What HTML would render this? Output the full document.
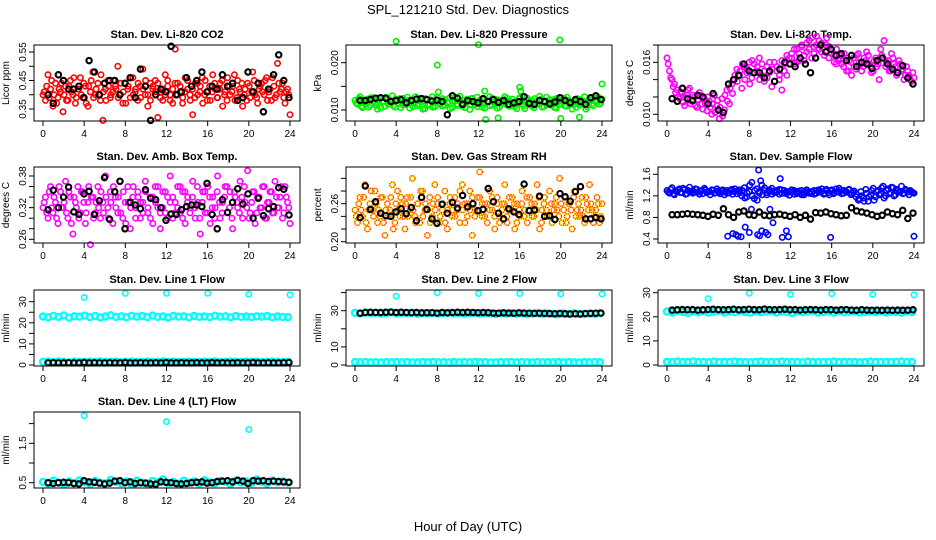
<!DOCTYPE html>
<html><head><meta charset="utf-8"><title>SPL_121210 Std. Dev. Diagnostics</title>
<style>
html,body{margin:0;padding:0;background:#fff;}
svg{display:block;font-family:"Liberation Sans",Arial,sans-serif;}
</style></head>
<body>
<svg id="chart" width="936" height="540" viewBox="0 0 936 540" xmlns="http://www.w3.org/2000/svg">
<text x="468" y="14" text-anchor="middle" font-size="13">SPL_121210  Std. Dev. Diagnostics</text>
<text x="468" y="531" text-anchor="middle" font-size="13">Hour of Day (UTC)</text>
</svg>
<script>
// ---- data ----
const xTicks = [0,4,8,12,16,20,24];

const co2Vals = [0.40,0.38,0.47,0.42,0.36,0.44,0.39,0.41,0.34,0.43,0.38,0.45,0.40,0.37,0.42,0.46,0.39,0.43,0.36,0.41,
0.48,0.40,0.44,0.38,0.31,0.42,0.45,0.39,0.41,0.43,0.50,0.40,0.37,0.44,0.42,0.39,0.46,0.41,0.38,0.43,
0.49,0.40,0.36,0.44,0.42,0.45,0.32,0.41,0.38,0.47,0.43,0.40,0.37,0.56,0.44,0.41,0.39,0.46,0.42,0.38,
0.33,0.44,0.40,0.43,0.37,0.45,0.41,0.38,0.47,0.42,0.39,0.44,0.36,0.41,0.46,0.40,0.43,0.38,0.45,0.41,
0.36,0.42,0.44,0.39,0.48,0.40,0.37,0.43,0.41,0.45,0.38,0.42,0.46,0.39,0.51,0.41,0.44,0.37,0.42,0.33];
const co2ValsB = [0.41,0.43,0.39,0.45,0.40,0.37,0.42,0.44,0.40,0.38,0.43,0.41,0.46,0.39,0.42,0.40,0.44,0.37,0.43,0.45,
0.39,0.42,0.40,0.47,0.41,0.38,0.43,0.40,0.45,0.42,0.39,0.44,0.41,0.37,0.43,0.46,0.40,0.42,0.44,0.39,
0.42,0.45,0.40,0.38,0.43,0.41,0.44,0.39,0.42,0.40,0.45,0.38,0.42,0.44,0.40,0.43,0.37,0.41,0.45,0.40,
0.42,0.39,0.44,0.41,0.46,0.40,0.38,0.43,0.41,0.44,0.39,0.42,0.45,0.40,0.38,0.43,0.41,0.47,0.39,0.42,
0.44,0.40,0.38,0.43,0.41,0.45,0.39,0.42,0.44,0.40,0.46,0.41,0.38,0.43,0.40,0.44,0.42,0.39,0.41,0.40];
const co2Black = [0.40,0.37,0.47,0.45,0.42,0.42,0.43,0.39,0.52,0.48,0.40,0.44,0.45,0.45,0.40,0.44,0.46,0.39,0.49,0.43,
0.31,0.40,0.42,0.41,0.57,0.40,0.41,0.46,0.43,0.45,0.48,0.41,0.43,0.42,0.47,0.43,0.44,0.38,0.39,0.48,
0.41,0.44,0.34,0.42,0.47,0.54,0.45,0.39];

const presVals = [0.0120,0.0112,0.0128,0.0105,0.0118,0.0123,0.0110,0.0126,0.0115,0.0102,0.0125,0.0117,0.0108,0.0122,0.0113,0.0130,0.0106,0.0119,0.0124,0.0111,
0.0116,0.0127,0.0104,0.0121,0.0114,0.0109,0.0125,0.0118,0.0103,0.0122,0.0112,0.0128,0.0107,0.0120,0.0115,0.0124,0.0110,0.0117,0.0126,0.0105,
0.0119,0.0113,0.0129,0.0108,0.0121,0.0116,0.0101,0.0123,0.0111,0.0127,0.0114,0.0106,0.0122,0.0118,0.0109,0.0125,0.0113,0.0104,0.0120,0.0116,
0.0128,0.0110,0.0119,0.0123,0.0107,0.0115,0.0126,0.0112,0.0103,0.0121,0.0117,0.0108,0.0124,0.0114,0.0129,0.0106,0.0119,0.0111,0.0122,0.0116,
0.0105,0.0125,0.0113,0.0118,0.0109,0.0127,0.0115,0.0102,0.0120,0.0124,0.0110,0.0117,0.0128,0.0107,0.0121,0.0113,0.0126,0.0118,0.0112,0.0123];
const presValsB = [0.0115,0.0124,0.0108,0.0121,0.0113,0.0106,0.0126,0.0118,0.0110,0.0122,0.0104,0.0119,0.0127,0.0112,0.0117,0.0109,0.0123,0.0114,0.0105,0.0125,
0.0111,0.0120,0.0116,0.0107,0.0128,0.0113,0.0119,0.0102,0.0124,0.0110,0.0121,0.0106,0.0117,0.0126,0.0112,0.0108,0.0122,0.0115,0.0103,0.0120,
0.0127,0.0109,0.0118,0.0114,0.0105,0.0123,0.0111,0.0125,0.0116,0.0107,0.0121,0.0113,0.0104,0.0119,0.0128,0.0110,0.0117,0.0122,0.0106,0.0114,
0.0120,0.0125,0.0108,0.0116,0.0112,0.0103,0.0124,0.0118,0.0109,0.0126,0.0111,0.0121,0.0105,0.0119,0.0113,0.0123,0.0107,0.0127,0.0115,0.0110,
0.0122,0.0104,0.0118,0.0112,0.0125,0.0108,0.0120,0.0116,0.0111,0.0106,0.0123,0.0114,0.0119,0.0102,0.0117,0.0124,0.0109,0.0121,0.0127,0.0115];
const presOutX = [4.0,8.0,8.1,12.0,12.7,13.9,16.0,16.1,19.9,20.0,21.8,24.0,12.6];
const presOutY = [0.0245,0.0195,0.0138,0.0238,0.0080,0.0083,0.0148,0.0140,0.0248,0.0082,0.0085,0.0155,0.0140];
const presBlack = [0.0120,0.0120,0.0122,0.0125,0.0126,0.0125,0.0118,0.0120,0.0122,0.0115,0.0120,0.0123,0.0124,0.0122,0.0119,0.0121,0.0118,0.0090,0.0130,0.0125,
0.0112,0.0120,0.0118,0.0115,0.0124,0.0118,0.0122,0.0116,0.0120,0.0112,0.0115,0.0118,0.0128,0.0114,0.0112,0.0120,0.0118,0.0113,0.0117,0.0126,
0.0120,0.0115,0.0122,0.0118,0.0112,0.0126,0.0130,0.0122];

const tempVals = [0.0165,0.0150,0.0140,0.0135,0.0128,0.0118,0.0125,0.0110,0.0122,0.0130,0.0115,0.0120,0.0108,0.0125,0.0112,0.0118,0.0104,0.0115,0.0100,0.0122,
0.0110,0.0095,0.0118,0.0105,0.0128,0.0112,0.0135,0.0140,0.0152,0.0145,0.0130,0.0155,0.0148,0.0160,0.0142,0.0158,0.0150,0.0165,0.0145,0.0138,
0.0155,0.0148,0.0132,0.0160,0.0150,0.0140,0.0128,0.0158,0.0145,0.0165,0.0170,0.0158,0.0175,0.0162,0.0180,0.0168,0.0172,0.0185,0.0165,0.0178,
0.0190,0.0175,0.0182,0.0168,0.0188,0.0178,0.0170,0.0160,0.0175,0.0165,0.0158,0.0170,0.0150,0.0162,0.0145,0.0155,0.0168,0.0160,0.0150,0.0165,
0.0172,0.0158,0.0148,0.0162,0.0155,0.0140,0.0168,0.0185,0.0160,0.0150,0.0170,0.0158,0.0145,0.0162,0.0150,0.0140,0.0155,0.0145,0.0138,0.0142];
const tempValsB = [0.0158,0.0142,0.0132,0.0125,0.0120,0.0126,0.0114,0.0119,0.0128,0.0112,0.0122,0.0110,0.0117,0.0121,0.0106,0.0113,0.0120,0.0108,0.0112,0.0102,
0.0116,0.0108,0.0098,0.0122,0.0115,0.0130,0.0124,0.0145,0.0138,0.0150,0.0158,0.0140,0.0152,0.0135,0.0162,0.0148,0.0155,0.0140,0.0158,0.0150,
0.0142,0.0160,0.0152,0.0138,0.0155,0.0145,0.0162,0.0150,0.0168,0.0158,0.0165,0.0175,0.0160,0.0170,0.0178,0.0162,0.0182,0.0175,0.0188,0.0170,
0.0180,0.0185,0.0172,0.0178,0.0180,0.0165,0.0175,0.0168,0.0158,0.0162,0.0168,0.0155,0.0165,0.0150,0.0160,0.0165,0.0152,0.0170,0.0158,0.0155,
0.0162,0.0168,0.0155,0.0150,0.0165,0.0158,0.0175,0.0165,0.0155,0.0162,0.0150,0.0165,0.0155,0.0148,0.0158,0.0152,0.0145,0.0150,0.0140,0.0148];
const tempBlack = [0.0118,0.0115,0.0130,0.0118,0.0116,0.0122,0.0120,0.0112,0.0124,0.0105,0.0102,0.0135,0.0140,0.0145,0.0158,0.0150,0.0148,0.0148,0.0142,0.0150,
0.0138,0.0152,0.0160,0.0158,0.0155,0.0165,0.0158,0.0148,0.0165,0.0180,0.0172,0.0175,0.0168,0.0170,0.0162,0.0168,0.0155,0.0160,0.0158,0.0153,
0.0162,0.0165,0.0158,0.0152,0.0148,0.0156,0.0142,0.0135];

const ambVals = [0.32,0.34,0.30,0.36,0.31,0.33,0.29,0.35,0.32,0.37,0.30,0.34,0.27,0.33,0.36,0.31,0.35,0.29,0.33,0.25,
0.34,0.31,0.36,0.30,0.33,0.38,0.32,0.35,0.29,0.34,0.31,0.37,0.30,0.33,0.36,0.28,0.34,0.32,0.35,0.30,
0.33,0.37,0.31,0.34,0.29,0.36,0.32,0.28,0.35,0.31,0.34,0.38,0.30,0.33,0.36,0.31,0.35,0.29,0.34,0.32,
0.37,0.30,0.33,0.27,0.35,0.31,0.36,0.29,0.34,0.32,0.38,0.30,0.33,0.36,0.31,0.35,0.28,0.34,0.32,0.37,
0.30,0.33,0.39,0.31,0.35,0.29,0.34,0.32,0.36,0.30,0.33,0.35,0.31,0.37,0.32,0.34,0.30,0.36,0.33,0.29];
const ambValsB = [0.33,0.31,0.35,0.32,0.34,0.30,0.36,0.32,0.33,0.31,0.35,0.29,0.34,0.32,0.30,0.35,0.33,0.31,0.36,0.34,
0.30,0.33,0.32,0.35,0.31,0.34,0.30,0.33,0.36,0.32,0.34,0.31,0.35,0.29,0.33,0.32,0.36,0.30,0.34,0.33,
0.31,0.35,0.32,0.30,0.34,0.33,0.36,0.31,0.32,0.35,0.30,0.33,0.34,0.31,0.32,0.36,0.30,0.35,0.33,0.31,
0.34,0.32,0.36,0.30,0.33,0.35,0.31,0.34,0.32,0.30,0.35,0.33,0.31,0.34,0.36,0.32,0.30,0.35,0.33,0.31,
0.34,0.36,0.32,0.30,0.33,0.35,0.31,0.34,0.32,0.36,0.30,0.33,0.35,0.31,0.34,0.32,0.36,0.31,0.34,0.32];
const ambBlack = [0.316,0.353,0.320,0.340,0.359,0.312,0.307,0.346,0.351,0.307,0.333,0.377,0.298,0.350,0.370,0.280,0.330,0.325,0.318,0.354,
0.338,0.335,0.320,0.296,0.308,0.307,0.316,0.322,0.325,0.325,0.322,0.366,0.307,0.280,0.335,0.311,0.330,0.356,0.327,0.346,0.300,0.338,
0.305,0.318,0.322,0.358,0.355,0.306];

const rhVals = [0.25,0.23,0.27,0.24,0.29,0.22,0.26,0.25,0.28,0.23,0.24,0.27,0.21,0.26,0.25,0.29,0.23,0.28,0.24,0.26,
0.22,0.27,0.25,0.30,0.24,0.26,0.23,0.28,0.25,0.21,0.27,0.24,0.29,0.26,0.23,0.25,0.28,0.22,0.26,0.24,
0.27,0.25,0.23,0.29,0.26,0.24,0.28,0.21,0.25,0.27,0.31,0.24,0.26,0.23,0.28,0.25,0.22,0.27,0.24,0.26,
0.29,0.23,0.25,0.27,0.22,0.26,0.24,0.28,0.25,0.23,0.27,0.24,0.26,0.29,0.22,0.25,0.27,0.24,0.28,0.23,
0.26,0.25,0.30,0.23,0.27,0.24,0.26,0.22,0.28,0.25,0.24,0.27,0.23,0.26,0.29,0.25,0.24,0.27,0.23,0.26];
const rhValsB = [0.24,0.26,0.25,0.27,0.23,0.25,0.28,0.24,0.26,0.25,0.27,0.23,0.25,0.24,0.27,0.22,0.26,0.25,0.27,0.24,
0.26,0.24,0.27,0.25,0.23,0.26,0.28,0.24,0.26,0.25,0.23,0.26,0.25,0.27,0.24,0.26,0.23,0.25,0.27,0.25,
0.24,0.26,0.28,0.25,0.23,0.26,0.25,0.27,0.24,0.25,0.27,0.26,0.24,0.26,0.25,0.27,0.24,0.26,0.23,0.25,
0.26,0.24,0.27,0.25,0.26,0.23,0.25,0.26,0.24,0.27,0.25,0.26,0.24,0.25,0.27,0.23,0.26,0.25,0.24,0.26,
0.25,0.27,0.24,0.26,0.25,0.23,0.26,0.25,0.27,0.24,0.26,0.25,0.24,0.27,0.25,0.26,0.23,0.25,0.26,0.24];
const rhBlack = [0.238,0.288,0.251,0.263,0.245,0.241,0.240,0.247,0.252,0.244,0.254,0.233,0.270,0.251,0.236,0.229,0.259,0.245,0.262,0.253,
0.273,0.255,0.260,0.249,0.251,0.284,0.263,0.245,0.236,0.252,0.247,0.243,0.291,0.249,0.250,0.272,0.240,0.241,0.235,0.276,
0.271,0.264,0.279,0.287,0.236,0.236,0.238,0.236];

const flowVals = [1.30,1.25,1.35,1.22,1.28,1.33,1.26,1.31,1.24,1.36,1.29,1.27,1.32,1.23,1.30,1.34,1.26,1.28,1.31,1.25,
1.33,1.27,1.29,1.22,1.30,1.26,1.32,1.28,1.24,1.31,1.20,1.35,1.18,1.28,1.45,1.15,1.33,1.25,1.40,1.30,
1.22,1.28,1.34,1.26,1.30,1.23,1.31,1.25,1.28,1.21,1.27,1.30,1.24,1.29,1.22,1.26,1.31,1.25,1.28,1.23,
1.30,1.27,1.33,1.25,1.29,1.22,1.31,1.26,1.28,1.34,1.24,1.30,1.27,1.32,1.25,1.29,1.23,1.15,1.20,1.10,
1.25,1.18,1.30,1.12,1.28,1.22,1.35,1.16,1.30,1.24,1.36,1.20,1.32,1.27,1.38,1.25,1.30,1.22,1.28,1.25];
const flowValsB = [1.27,1.32,1.24,1.29,1.31,1.26,1.34,1.23,1.30,1.28,1.25,1.33,1.27,1.29,1.24,1.31,1.28,1.22,1.30,1.26,
1.29,1.24,1.31,1.27,1.25,1.30,1.23,1.33,1.29,1.26,1.30,1.16,1.25,1.40,1.20,1.30,1.12,1.28,1.22,1.35,
1.26,1.31,1.23,1.29,1.27,1.32,1.25,1.30,1.24,1.28,1.31,1.23,1.27,1.25,1.30,1.22,1.28,1.26,1.24,1.30,
1.25,1.31,1.28,1.23,1.32,1.26,1.29,1.24,1.33,1.27,1.30,1.25,1.28,1.31,1.22,1.26,1.18,1.12,1.28,1.16,
1.32,1.10,1.22,1.34,1.18,1.30,1.24,1.38,1.20,1.33,1.26,1.35,1.22,1.30,1.28,1.24,1.32,1.27,1.30,1.26];
const flowOutX = [5.9,6.4,6.7,6.9,7.2,8.0,8.2,8.8,8.9,9.0,9.2,9.6,9.8,10.0,10.3,11.2,11.6,11.8,15.9,24.0,9.1,11.0,7.6];
const flowOutY = [0.45,0.50,0.48,0.45,0.44,0.52,0.95,0.48,1.68,0.46,0.55,0.52,0.48,0.95,0.70,0.43,0.55,0.44,0.43,0.45,1.48,1.52,0.62];
const flowBlack = [0.85,0.85,0.86,0.87,0.86,0.85,0.84,0.82,0.86,0.84,0.96,0.85,0.80,0.90,0.92,0.85,0.84,0.90,0.84,0.83,
0.85,0.86,0.84,0.82,0.85,0.80,0.84,0.77,0.89,0.88,0.90,0.87,0.85,0.83,0.84,0.98,0.92,0.90,0.88,0.85,
0.82,0.84,0.90,0.87,0.85,0.93,0.78,0.88];

const l1High = [23.0,22.6,23.3,22.8,23.5,22.4,23.1,22.9,23.4,22.7,23.2,22.5,23.0,23.6,22.8,23.1,22.6,23.3,22.9,23.2,
22.7,23.4,22.8,23.0,22.5,23.3,22.9,23.1,22.6,23.2,22.8,23.0,22.7,23.3,22.9,23.1,22.6,23.2,22.8,23.0,
22.7,23.1,22.9,23.2,22.6,23.0,22.8,22.7];
const l1Low = [1.5,1.6,1.4,1.7,1.5,1.3,1.6,1.5,1.4,1.6,1.5,1.7,1.4,1.5,1.6,1.3,1.5,1.6,1.4,1.5,
1.6,1.5,1.4,1.7,1.5,1.6,1.4,1.5,1.6,1.5,1.4,1.6,1.5,1.7,1.4,1.5,1.6,1.5,1.4,1.6,1.5,1.6,1.4,1.5,1.6,1.5,1.4,1.5];
const l1OutX = [4,8,12,16,20,24];
const l1OutY = [32.0,34.0,34.0,34.0,33.5,33.2];
const l1Black = [1.0,1.1,1.0,1.0,1.1,1.0,1.0,1.2,1.0,1.1,1.0,1.0,1.1,1.0,1.0,1.2,1.0,1.0,1.1,1.0,
1.0,1.1,1.0,1.2,1.0,1.0,1.1,1.0,1.0,1.1,1.0,1.0,1.2,1.0,1.1,1.0,1.0,1.1,1.0,1.0,1.2,1.0,1.0,1.1,1.0,1.0,1.1,1.2];

const l2High = [28.8,28.5,29.0,28.6,28.9,28.4,28.7,29.1,28.5,28.8,28.6,28.9,28.3,28.7,28.5,28.8,28.4,28.6,28.9,28.5,
28.7,28.3,28.6,28.8,28.4,28.7,28.5,28.2,28.6,28.4,28.7,28.3,28.5,28.1,28.4,28.6,28.2,28.5,28.3,28.0,
28.4,28.2,28.5,28.1,28.3,28.4,28.2,28.6];
const l2Low = [1.6,1.5,1.7,1.5,1.6,1.4,1.6,1.5,1.7,1.5,1.6,1.5,1.4,1.6,1.5,1.7,1.5,1.6,1.4,1.6,
1.5,1.6,1.5,1.7,1.5,1.6,1.4,1.5,1.6,1.5,1.7,1.5,1.6,1.5,1.4,1.6,1.5,1.6,1.5,1.7,1.5,1.6,1.5,1.4,1.6,1.5,1.6,1.5];
const l2OutX = [4,8,12,16,20,24];
const l2OutY = [38.0,40.0,39.5,39.5,39.2,39.2];
const l2Black = [28.6,29.0,29.1,29.0,29.0,29.1,29.2,29.0,29.1,29.0,28.9,29.0,28.8,28.9,28.9,28.7,29.0,28.8,29.0,29.1,
29.0,29.1,29.0,28.9,29.0,28.9,28.7,28.6,28.8,28.7,28.6,28.8,28.7,28.6,28.5,28.6,28.5,28.4,28.3,28.5,
28.3,28.2,28.3,28.2,28.4,28.5,28.6,28.7];

const l3High = [22.2,21.8,22.5,22.0,21.6,22.3,21.9,22.4,21.7,22.1,22.6,21.8,22.2,21.9,22.5,22.0,21.7,22.3,21.9,22.1,
22.4,21.8,22.2,22.0,21.6,22.3,21.9,22.1,22.5,21.8,22.0,22.2,21.7,22.4,21.9,22.1,22.3,21.8,22.0,22.2,
21.9,22.3,21.8,22.1,22.0,21.7,22.2,21.9];
const l3Low = [1.3,1.2,1.4,1.2,1.3,1.5,1.2,1.3,1.1,1.4,1.2,1.3,1.2,1.4,1.3,1.2,1.1,1.3,1.4,1.2,
1.3,1.2,1.4,1.3,1.2,1.3,1.1,1.4,1.2,1.3,1.2,1.3,1.4,1.2,1.3,1.2,1.3,1.1,1.2,1.4,1.3,1.2,1.3,1.2,1.3,1.4,1.2,1.3];
const l3OutX = [4,8,12,16,20,24];
const l3OutY = [27.5,29.8,29.3,29.6,29.3,29.1];
const l3Black = [22.8,22.9,23.0,22.9,23.0,22.8,22.9,23.0,23.1,23.0,22.9,23.0,23.1,22.9,23.0,23.1,23.0,22.9,23.2,23.0,
22.9,23.0,23.1,22.9,23.0,22.8,22.9,23.0,22.9,22.8,23.0,22.9,22.8,22.9,23.0,22.8,22.7,22.9,22.8,22.7,
22.8,22.7,22.8,22.7,22.8,22.7,22.8,22.9];

const l4Vals = [0.52,0.48,0.55,0.50,0.46,0.53,0.49,0.56,0.51,0.47,0.54,0.50,0.48,0.57,0.52,0.49,0.53,0.46,0.55,0.50,
0.48,0.54,0.51,0.58,0.49,0.52,0.47,0.55,0.50,0.53,0.48,0.56,0.51,0.49,0.54,0.52,0.47,0.55,0.50,0.53,
0.49,0.58,0.52,0.48,0.55,0.51,0.53,0.50];
const l4OutX = [4,12,20];
const l4OutY = [2.20,2.05,1.85];
const l4Black = [0.50,0.48,0.50,0.51,0.50,0.48,0.47,0.55,0.52,0.51,0.49,0.47,0.49,0.54,0.55,0.50,0.52,0.48,0.50,0.49,
0.47,0.46,0.52,0.51,0.50,0.48,0.47,0.48,0.50,0.51,0.52,0.49,0.50,0.53,0.54,0.55,0.52,0.56,0.54,0.48,
0.55,0.54,0.55,0.53,0.54,0.53,0.52,0.51];

// ---- layout ----
const svg = document.getElementById('chart');
const NS = 'http://www.w3.org/2000/svg';
const colLeft = [34, 346, 658];
const rowTop = [45, 167, 290, 412];
const BOXW = 266, BOXH = 76;

function mk(tag, attrs, parent) {
  const e = document.createElementNS(NS, tag);
  for (const k in attrs) e.setAttribute(k, attrs[k]);
  (parent || svg).appendChild(e);
  return e;
}

function indexX(n, a, b) { return function(i){ return a + i * (b - a) / (n - 1); }; }

function panel(cfg) {
  const L = colLeft[cfg.col], T = rowTop[cfg.row];
  const g = mk('g', {});
  
  
  const sx = v => L + 9 + v * 247 / 24;
  const sy = v => T + cfg.ref[1] + (v - cfg.ref[0]) * (cfg.ref[3] - cfg.ref[1]) / (cfg.ref[2] - cfg.ref[0]);

  const t = mk('text', {x: L + BOXW / 2, y: T - 7, 'text-anchor': 'middle', 'font-size': 11, 'font-weight': 'bold'}, g);
  t.textContent = cfg.title;
  
  

  const yl = mk('text', {x: 0, y: 0, 'text-anchor': 'middle', 'font-size': 10, transform: 'translate(' + (L - 25) + ',' + (T + BOXH / 2) + ') rotate(-90)'}, g);
  yl.textContent = cfg.ylab;
  
  

  const pts = mk('g', {fill: 'none'}, g);
  
  
  function dot(x, y, s) {
    const c = mk('circle', {cx: sx(x).toFixed(1), cy: sy(y).toFixed(1), r: s.r || 2.7, stroke: s.color, 'stroke-width': s.w || 1.6}, pts);
    
    
    if (s.dash) {
      const d = mk('circle', {cx: sx(x).toFixed(1), cy: sy(y).toFixed(1), r: 2.7, stroke: s.dash, 'stroke-width': 1.2, 'stroke-dasharray': '1 1.2'}, pts);
      
      
    }
  }
  cfg.series.forEach(s => {
    if (s.x) { s.y.forEach((v, i) => dot(s.x[i], v, s)); }
    else { const f = indexX(s.y.length, s.x0, s.x1); s.y.forEach((v, i) => dot(f(i), v, s)); }
  });

  const box = mk('rect', {x: L, y: T, width: BOXW, height: BOXH, fill: 'none', stroke: '#000', 'stroke-width': 1}, g);
  
  

  const ax = mk('g', {stroke: '#000', 'stroke-width': 1}, g);
  
  
  mk('line', {x1: sx(0), x2: sx(24), y1: T + BOXH, y2: T + BOXH}, ax);
  xTicks.forEach(v => {
    mk('line', {x1: sx(v), x2: sx(v), y1: T + BOXH, y2: T + BOXH + 5}, ax);
    const lb = mk('text', {x: sx(v), y: T + BOXH + 16, 'text-anchor': 'middle', 'font-size': 10, stroke: 'none'}, ax);
    lb.textContent = v;
    
    
  });

  const ay = mk('g', {stroke: '#000', 'stroke-width': 1}, g);
  
  
  mk('line', {x1: L, x2: L, y1: sy(cfg.ticks[0]), y2: sy(cfg.ticks[cfg.ticks.length - 1])}, ay);
  cfg.ticks.forEach(v => {
    mk('line', {x1: L - 5, x2: L, y1: sy(v), y2: sy(v)}, ay);
  });
  cfg.labels.forEach(v => {
    const lb = mk('text', {x: 0, y: 0, 'text-anchor': 'middle', 'font-size': 10, stroke: 'none', transform: 'translate(' + (L - 8) + ',' + sy(v).toFixed(1) + ') rotate(-90)'}, ay);
    lb.textContent = cfg.fmt ? v.toFixed(cfg.fmt) : v;
    
    
  });
}

const BX0 = 0.5, BX1 = 23.9;
const H = 0.12; // half-step offset for the second dense series
const BW = 2.1; // black marker stroke width
const CY = {r: 3, w: 2.4}; // cyan band markers
panel({name:'co2', col:0, row:0, title:'Stan. Dev. Li-820 CO2', ylab:'Licor ppm', ref:[0.35,64,0.55,7],
  ticks:[0.35,0.40,0.45,0.50,0.55], labels:[0.35,0.45,0.55], fmt:2,
  series:[{y:co2Vals, x0:0, x1:24, color:'#ff0000'}, {y:co2ValsB, x0:H, x1:24-H, color:'#ff0000'}, {y:co2Black, x0:BX0, x1:BX1, color:'#000', w:BW}]});
panel({name:'pressure', col:1, row:0, title:'Stan. Dev. Li-820 Pressure', ylab:'kPa', ref:[0.010,65,0.020,17.7],
  ticks:[0.010,0.015,0.020], labels:[0.010,0.020], fmt:3,
  series:[{y:presVals, x0:0, x1:24, color:'#00ee00'}, {y:presValsB, x0:H, x1:24-H, color:'#00ee00'}, {x:presOutX, y:presOutY, color:'#00ee00'}, {y:presBlack, x0:BX0, x1:BX1, color:'#000', w:BW}]});
panel({name:'li820-temp', col:2, row:0, title:'Stan. Dev. Li-820 Temp.', ylab:'degrees C', ref:[0.010,69.3,0.016,17.3],
  ticks:[0.010,0.012,0.014,0.016,0.018], labels:[0.010,0.016], fmt:3,
  series:[{y:tempVals, x0:0, x1:24, color:'#ff00ff'}, {y:tempValsB, x0:H, x1:24-H, color:'#ff00ff'}, {y:tempBlack, x0:BX0, x1:BX1, color:'#000', w:BW}]});
panel({name:'amb-box-temp', col:0, row:1, title:'Stan. Dev. Amb. Box Temp.', ylab:'degrees C', ref:[0.26,72.3,0.38,9],
  ticks:[0.26,0.28,0.30,0.32,0.34,0.36,0.38], labels:[0.26,0.32,0.38], fmt:2,
  series:[{y:ambVals, x0:0, x1:24, color:'#ff00ff'}, {y:ambValsB, x0:H, x1:24-H, color:'#ff00ff'}, {y:ambBlack, x0:BX0, x1:BX1, color:'#000', w:BW}]});
panel({name:'gas-rh', col:1, row:1, title:'Stan. Dev. Gas Stream RH', ylab:'percent', ref:[0.20,74.7,0.26,36.7],
  ticks:[0.20,0.22,0.24,0.26,0.28,0.30], labels:[0.20,0.26], fmt:2,
  series:[{y:rhVals, x0:0, x1:24, color:'#ffd000', dash:'#ff2000'}, {y:rhValsB, x0:H, x1:24-H, color:'#ffd000', dash:'#ff2000'}, {y:rhBlack, x0:BX0, x1:BX1, color:'#000', w:BW}]});
panel({name:'sample-flow', col:2, row:1, title:'Stan. Dev. Sample Flow', ylab:'ml/min', ref:[0.4,72,1.6,7.3],
  ticks:[0.4,0.8,1.2,1.6], labels:[0.4,0.8,1.2,1.6], fmt:1,
  series:[{y:flowVals, x0:0, x1:24, color:'#0000ff'}, {y:flowValsB, x0:H, x1:24-H, color:'#0000ff'}, {x:flowOutX, y:flowOutY, color:'#0000ff'}, {y:flowBlack, x0:BX0, x1:BX1, color:'#000', w:BW}]});
panel({name:'line1-flow', col:0, row:2, title:'Stan. Dev. Line 1 Flow', ylab:'ml/min', ref:[0,75,30,11.7],
  ticks:[0,5,10,15,20,25,30], labels:[0,10,20,30], fmt:0,
  series:[{y:l1High, x0:0, x1:23.8, color:'#00ffff', r:CY.r, w:CY.w}, {y:l1Low, x0:0, x1:23.8, color:'#00ffff', r:CY.r, w:CY.w}, {x:l1OutX, y:l1OutY, color:'#00ffff'}, {y:l1Black, x0:BX0, x1:BX1, color:'#000', w:BW}]});
panel({name:'line2-flow', col:1, row:2, title:'Stan. Dev. Line 2 Flow', ylab:'ml/min', ref:[0,75,30,20.7],
  ticks:[0,10,20,30,40], labels:[0,10,30], fmt:0,
  series:[{y:l2High, x0:0, x1:23.8, color:'#00ffff', r:CY.r, w:CY.w}, {y:l2Low, x0:0, x1:23.8, color:'#00ffff', r:CY.r, w:CY.w}, {x:l2OutX, y:l2OutY, color:'#00ffff'}, {y:l2Black, x0:BX0, x1:BX1, color:'#000', w:BW}]});
panel({name:'line3-flow', col:2, row:2, title:'Stan. Dev. Line 3 Flow', ylab:'ml/min', ref:[0,75,30,2.7],
  ticks:[0,10,20,30], labels:[0,10,20,30], fmt:0,
  series:[{y:l3High, x0:0, x1:23.8, color:'#00ffff', r:CY.r, w:CY.w}, {y:l3Low, x0:0, x1:23.8, color:'#00ffff', r:CY.r, w:CY.w}, {x:l3OutX, y:l3OutY, color:'#00ffff'}, {y:l3Black, x0:BX0, x1:BX1, color:'#000', w:BW}]});
panel({name:'line4-flow', col:0, row:3, title:'Stan. Dev. Line 4 (LT) Flow', ylab:'ml/min', ref:[0.5,70.7,1.5,31.3],
  ticks:[0.5,1.0,1.5,2.0], labels:[0.5,1.5], fmt:1,
  series:[{y:l4Vals, x0:0, x1:23.8, color:'#00ffff', r:CY.r, w:CY.w}, {x:l4OutX, y:l4OutY, color:'#00ffff'}, {y:l4Black, x0:BX0, x1:BX1, color:'#000', w:BW}]});
</script>
</body></html>
